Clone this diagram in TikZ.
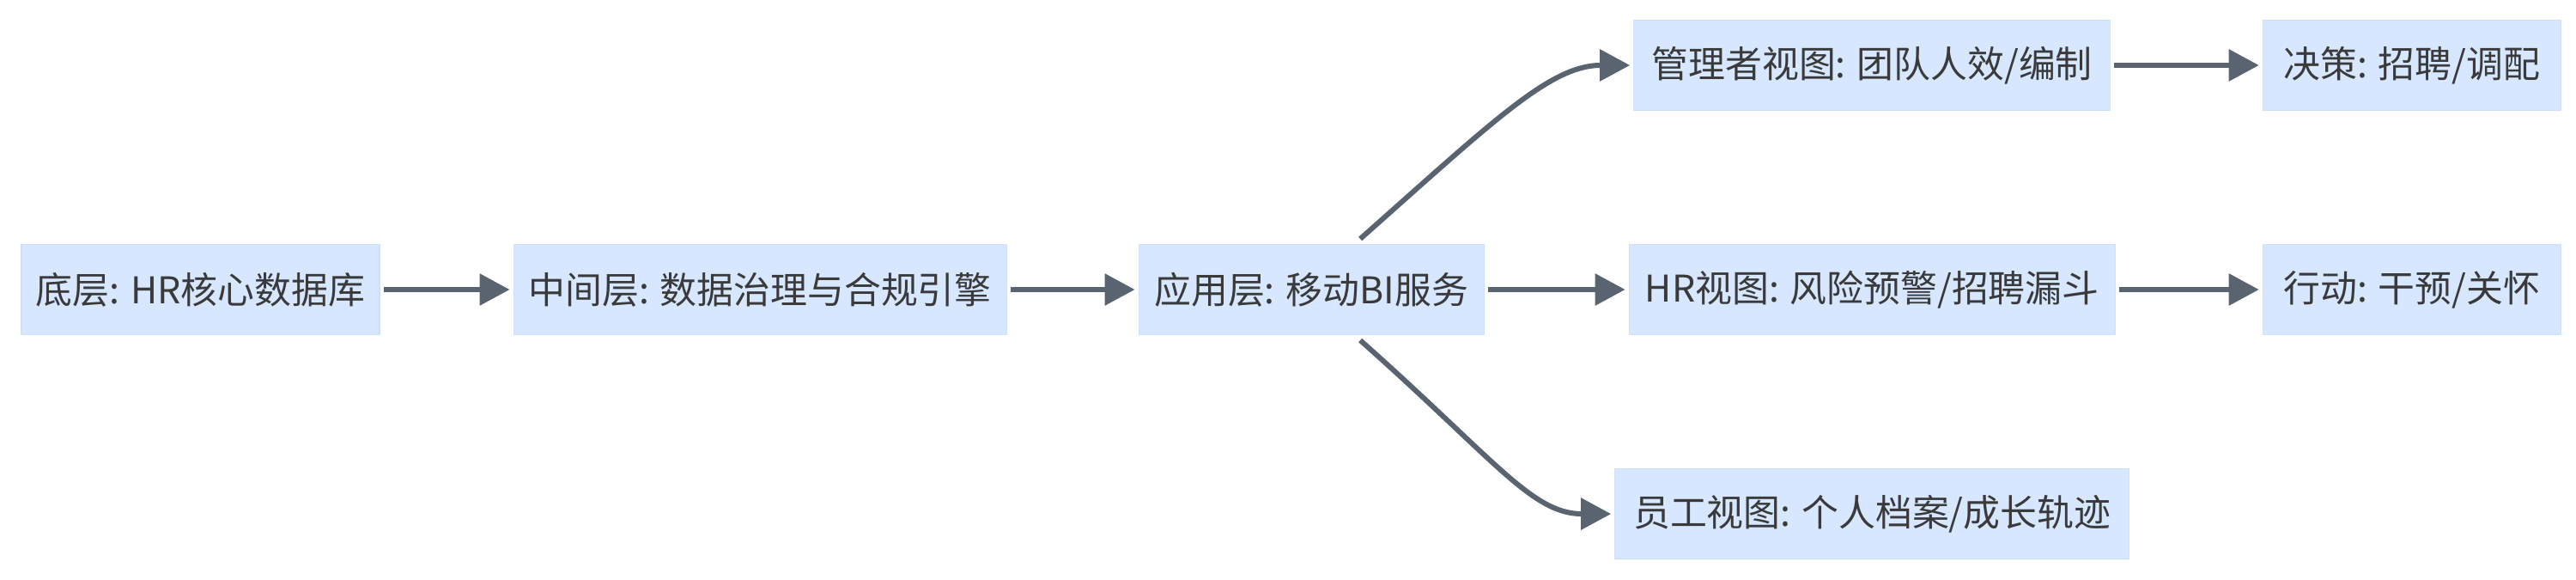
\documentclass[tikz,border=0pt]{standalone}
\usepackage{fontspec}
\usepackage{xcolor}
\usepackage{tikz}
\usetikzlibrary{positioning,calc,arrows.meta}
\newfontfamily\cjk{Noto Sans CJK SC}
\definecolor{boxfill}{HTML}{D6E7FF}
\definecolor{boxline}{HTML}{CFE0FA}
\definecolor{linkcol}{HTML}{5A6470}
\definecolor{txtcol}{HTML}{3A3A3A}

\begin{document}
\begin{tikzpicture}[node distance=1.55cm,
    box/.style={fill=boxfill, draw=boxline, line width=0.3pt, rectangle, minimum height=1.05cm,
        inner xsep=0pt, text=txtcol, font=\cjk\fontsize{12.2pt}{15pt}\selectfont},
    flow/.style={draw=linkcol, line width=0.06cm, shorten >=0.04cm,
        -{Triangle[length=0.35cm,width=0.36cm]}}]
    \useasboundingbox (0,0) rectangle (30,6.74);

    % Main chain
    \node [box, minimum width=4.17cm] (core) at (2.335,3.37) {底层: HR核心数据库};
    \node [box, minimum width=5.74cm, right=1.55cm of core] (gov) {中间层: 数据治理与合规引擎};
    \node [box, minimum width=4.02cm, right=1.53cm of gov] (app) {应用层: 移动BI服务};

    % Views
    \node [box, minimum width=5.66cm, right=1.68cm of app] (hrv) {HR视图: 风险预警/招聘漏斗};
    \node [box, minimum width=5.55cm, above=1.55cm of hrv] (mgr) {管理者视图: 团队人效/编制};
    \node [box, minimum width=5.99cm, below=1.55cm of hrv] (emp) {员工视图: 个人档案/成长轨迹};

    % Outcomes
    \node [box, minimum width=3.47cm, right=1.71cm of hrv] (act) {行动: 干预/关怀};
    \node [box, minimum width=3.47cm, above=1.55cm of act] (dec) {决策: 招聘/调配};

    % Links
    \draw [flow] ([xshift=0.04cm]core.east) -- (gov);
    \draw [flow] ([xshift=0.04cm]gov.east) -- (app);
    \draw [flow] ([xshift=0.04cm]app.east) -- (hrv);
    \draw [flow] ([xshift=0.57cm,yshift=0.06cm]app.north) .. controls +(1.58,1.4) and +(-0.96,0) .. (mgr.west);
    \draw [flow] ([xshift=0.57cm,yshift=-0.06cm]app.south) .. controls +(1.58,-1.4) and +(-0.96,0) .. (emp.west);
    \draw [flow] ([xshift=0.04cm]mgr.east) -- (dec);
    \draw [flow] ([xshift=0.04cm]hrv.east) -- (act);
\end{tikzpicture}
\end{document}
